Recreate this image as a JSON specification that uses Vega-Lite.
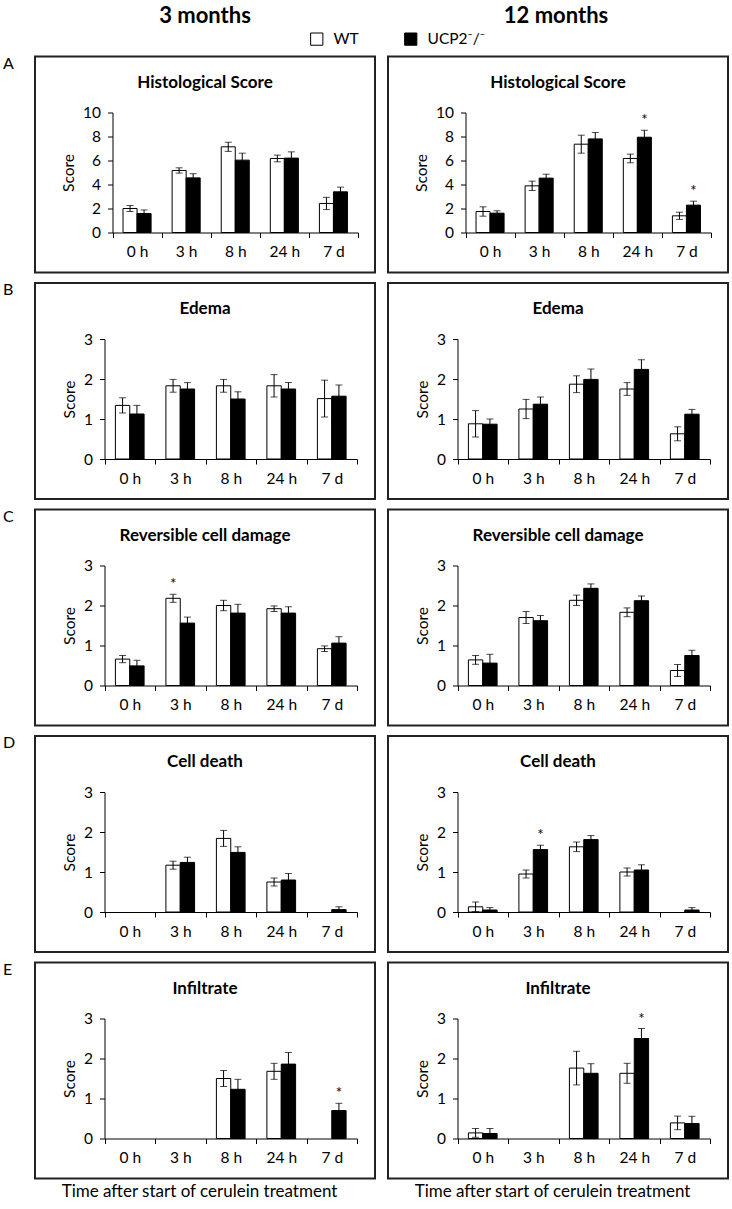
{
  "$schema": "https://vega.github.io/schema/vega-lite/v6.json",
  "padding": {"left": 3, "top": 5, "right": 0, "bottom": 0},
  "background": "white",
  "datasets": {
    "scores": [
      {"measure":"Histological Score","age":"3 months","time":"0 h","group":"WT","mean":2.0,"lo":1.75,"hi":2.25,"sig":""},
      {"measure":"Histological Score","age":"3 months","time":"0 h","group":"UCP2⁻/⁻","mean":1.58,"lo":1.28,"hi":1.88,"sig":""},
      {"measure":"Histological Score","age":"3 months","time":"3 h","group":"WT","mean":5.17,"lo":4.95,"hi":5.39,"sig":""},
      {"measure":"Histological Score","age":"3 months","time":"3 h","group":"UCP2⁻/⁻","mean":4.55,"lo":4.2,"hi":4.9,"sig":""},
      {"measure":"Histological Score","age":"3 months","time":"8 h","group":"WT","mean":7.14,"lo":6.76,"hi":7.52,"sig":""},
      {"measure":"Histological Score","age":"3 months","time":"8 h","group":"UCP2⁻/⁻","mean":6.03,"lo":5.45,"hi":6.61,"sig":""},
      {"measure":"Histological Score","age":"3 months","time":"24 h","group":"WT","mean":6.17,"lo":5.89,"hi":6.45,"sig":""},
      {"measure":"Histological Score","age":"3 months","time":"24 h","group":"UCP2⁻/⁻","mean":6.2,"lo":5.68,"hi":6.72,"sig":""},
      {"measure":"Histological Score","age":"3 months","time":"7 d","group":"WT","mean":2.42,"lo":1.91,"hi":2.93,"sig":""},
      {"measure":"Histological Score","age":"3 months","time":"7 d","group":"UCP2⁻/⁻","mean":3.39,"lo":3.0,"hi":3.78,"sig":""},
      {"measure":"Histological Score","age":"12 months","time":"0 h","group":"WT","mean":1.75,"lo":1.36,"hi":2.14,"sig":""},
      {"measure":"Histological Score","age":"12 months","time":"0 h","group":"UCP2⁻/⁻","mean":1.61,"lo":1.41,"hi":1.81,"sig":""},
      {"measure":"Histological Score","age":"12 months","time":"3 h","group":"WT","mean":3.89,"lo":3.5,"hi":4.28,"sig":""},
      {"measure":"Histological Score","age":"12 months","time":"3 h","group":"UCP2⁻/⁻","mean":4.53,"lo":4.2,"hi":4.86,"sig":""},
      {"measure":"Histological Score","age":"12 months","time":"8 h","group":"WT","mean":7.36,"lo":6.61,"hi":8.11,"sig":""},
      {"measure":"Histological Score","age":"12 months","time":"8 h","group":"UCP2⁻/⁻","mean":7.8,"lo":7.27,"hi":8.33,"sig":""},
      {"measure":"Histological Score","age":"12 months","time":"24 h","group":"WT","mean":6.17,"lo":5.81,"hi":6.53,"sig":""},
      {"measure":"Histological Score","age":"12 months","time":"24 h","group":"UCP2⁻/⁻","mean":7.94,"lo":7.36,"hi":8.52,"sig":"*"},
      {"measure":"Histological Score","age":"12 months","time":"7 d","group":"WT","mean":1.39,"lo":1.09,"hi":1.69,"sig":""},
      {"measure":"Histological Score","age":"12 months","time":"7 d","group":"UCP2⁻/⁻","mean":2.28,"lo":1.95,"hi":2.61,"sig":"*"},
      {"measure":"Edema","age":"3 months","time":"0 h","group":"WT","mean":1.34,"lo":1.15,"hi":1.53,"sig":""},
      {"measure":"Edema","age":"3 months","time":"0 h","group":"UCP2⁻/⁻","mean":1.125,"lo":0.9,"hi":1.34,"sig":""},
      {"measure":"Edema","age":"3 months","time":"3 h","group":"WT","mean":1.83,"lo":1.67,"hi":1.99,"sig":""},
      {"measure":"Edema","age":"3 months","time":"3 h","group":"UCP2⁻/⁻","mean":1.75,"lo":1.59,"hi":1.91,"sig":""},
      {"measure":"Edema","age":"3 months","time":"8 h","group":"WT","mean":1.83,"lo":1.67,"hi":1.99,"sig":""},
      {"measure":"Edema","age":"3 months","time":"8 h","group":"UCP2⁻/⁻","mean":1.5,"lo":1.32,"hi":1.68,"sig":""},
      {"measure":"Edema","age":"3 months","time":"24 h","group":"WT","mean":1.83,"lo":1.55,"hi":2.11,"sig":""},
      {"measure":"Edema","age":"3 months","time":"24 h","group":"UCP2⁻/⁻","mean":1.75,"lo":1.59,"hi":1.91,"sig":""},
      {"measure":"Edema","age":"3 months","time":"7 d","group":"WT","mean":1.51,"lo":1.05,"hi":1.97,"sig":""},
      {"measure":"Edema","age":"3 months","time":"7 d","group":"UCP2⁻/⁻","mean":1.57,"lo":1.29,"hi":1.85,"sig":""},
      {"measure":"Edema","age":"12 months","time":"0 h","group":"WT","mean":0.88,"lo":0.55,"hi":1.21,"sig":""},
      {"measure":"Edema","age":"12 months","time":"0 h","group":"UCP2⁻/⁻","mean":0.87,"lo":0.74,"hi":1.0,"sig":""},
      {"measure":"Edema","age":"12 months","time":"3 h","group":"WT","mean":1.25,"lo":1.01,"hi":1.49,"sig":""},
      {"measure":"Edema","age":"12 months","time":"3 h","group":"UCP2⁻/⁻","mean":1.37,"lo":1.19,"hi":1.55,"sig":""},
      {"measure":"Edema","age":"12 months","time":"8 h","group":"WT","mean":1.87,"lo":1.66,"hi":2.08,"sig":""},
      {"measure":"Edema","age":"12 months","time":"8 h","group":"UCP2⁻/⁻","mean":1.99,"lo":1.73,"hi":2.25,"sig":""},
      {"measure":"Edema","age":"12 months","time":"24 h","group":"WT","mean":1.75,"lo":1.59,"hi":1.91,"sig":""},
      {"measure":"Edema","age":"12 months","time":"24 h","group":"UCP2⁻/⁻","mean":2.24,"lo":2.0,"hi":2.48,"sig":""},
      {"measure":"Edema","age":"12 months","time":"7 d","group":"WT","mean":0.63,"lo":0.455,"hi":0.805,"sig":""},
      {"measure":"Edema","age":"12 months","time":"7 d","group":"UCP2⁻/⁻","mean":1.12,"lo":1.0,"hi":1.24,"sig":""},
      {"measure":"Reversible cell damage","age":"3 months","time":"0 h","group":"WT","mean":0.66,"lo":0.57,"hi":0.75,"sig":""},
      {"measure":"Reversible cell damage","age":"3 months","time":"0 h","group":"UCP2⁻/⁻","mean":0.49,"lo":0.35,"hi":0.63,"sig":""},
      {"measure":"Reversible cell damage","age":"3 months","time":"3 h","group":"WT","mean":2.18,"lo":2.08,"hi":2.28,"sig":"*"},
      {"measure":"Reversible cell damage","age":"3 months","time":"3 h","group":"UCP2⁻/⁻","mean":1.56,"lo":1.42,"hi":1.71,"sig":""},
      {"measure":"Reversible cell damage","age":"3 months","time":"8 h","group":"WT","mean":2.0,"lo":1.87,"hi":2.13,"sig":""},
      {"measure":"Reversible cell damage","age":"3 months","time":"8 h","group":"UCP2⁻/⁻","mean":1.81,"lo":1.59,"hi":2.03,"sig":""},
      {"measure":"Reversible cell damage","age":"3 months","time":"24 h","group":"WT","mean":1.92,"lo":1.85,"hi":1.99,"sig":""},
      {"measure":"Reversible cell damage","age":"3 months","time":"24 h","group":"UCP2⁻/⁻","mean":1.81,"lo":1.65,"hi":1.97,"sig":""},
      {"measure":"Reversible cell damage","age":"3 months","time":"7 d","group":"WT","mean":0.92,"lo":0.85,"hi":0.99,"sig":""},
      {"measure":"Reversible cell damage","age":"3 months","time":"7 d","group":"UCP2⁻/⁻","mean":1.06,"lo":0.9,"hi":1.22,"sig":""},
      {"measure":"Reversible cell damage","age":"12 months","time":"0 h","group":"WT","mean":0.64,"lo":0.53,"hi":0.75,"sig":""},
      {"measure":"Reversible cell damage","age":"12 months","time":"0 h","group":"UCP2⁻/⁻","mean":0.56,"lo":0.34,"hi":0.78,"sig":""},
      {"measure":"Reversible cell damage","age":"12 months","time":"3 h","group":"WT","mean":1.7,"lo":1.55,"hi":1.85,"sig":""},
      {"measure":"Reversible cell damage","age":"12 months","time":"3 h","group":"UCP2⁻/⁻","mean":1.62,"lo":1.49,"hi":1.75,"sig":""},
      {"measure":"Reversible cell damage","age":"12 months","time":"8 h","group":"WT","mean":2.13,"lo":2.0,"hi":2.26,"sig":""},
      {"measure":"Reversible cell damage","age":"12 months","time":"8 h","group":"UCP2⁻/⁻","mean":2.43,"lo":2.31,"hi":2.54,"sig":""},
      {"measure":"Reversible cell damage","age":"12 months","time":"24 h","group":"WT","mean":1.83,"lo":1.72,"hi":1.94,"sig":""},
      {"measure":"Reversible cell damage","age":"12 months","time":"24 h","group":"UCP2⁻/⁻","mean":2.12,"lo":1.99,"hi":2.24,"sig":""},
      {"measure":"Reversible cell damage","age":"12 months","time":"7 d","group":"WT","mean":0.375,"lo":0.225,"hi":0.525,"sig":""},
      {"measure":"Reversible cell damage","age":"12 months","time":"7 d","group":"UCP2⁻/⁻","mean":0.75,"lo":0.62,"hi":0.88,"sig":""},
      {"measure":"Cell death","age":"3 months","time":"3 h","group":"WT","mean":1.17,"lo":1.07,"hi":1.27,"sig":""},
      {"measure":"Cell death","age":"3 months","time":"3 h","group":"UCP2⁻/⁻","mean":1.24,"lo":1.11,"hi":1.37,"sig":""},
      {"measure":"Cell death","age":"3 months","time":"8 h","group":"WT","mean":1.84,"lo":1.64,"hi":2.04,"sig":""},
      {"measure":"Cell death","age":"3 months","time":"8 h","group":"UCP2⁻/⁻","mean":1.49,"lo":1.36,"hi":1.63,"sig":""},
      {"measure":"Cell death","age":"3 months","time":"24 h","group":"WT","mean":0.75,"lo":0.65,"hi":0.85,"sig":""},
      {"measure":"Cell death","age":"3 months","time":"24 h","group":"UCP2⁻/⁻","mean":0.8,"lo":0.64,"hi":0.96,"sig":""},
      {"measure":"Cell death","age":"3 months","time":"7 d","group":"UCP2⁻/⁻","mean":0.06,"lo":0.0,"hi":0.13,"sig":""},
      {"measure":"Cell death","age":"12 months","time":"0 h","group":"WT","mean":0.13,"lo":0.01,"hi":0.25,"sig":""},
      {"measure":"Cell death","age":"12 months","time":"0 h","group":"UCP2⁻/⁻","mean":0.05,"lo":0.0,"hi":0.11,"sig":""},
      {"measure":"Cell death","age":"12 months","time":"3 h","group":"WT","mean":0.95,"lo":0.85,"hi":1.05,"sig":""},
      {"measure":"Cell death","age":"12 months","time":"3 h","group":"UCP2⁻/⁻","mean":1.56,"lo":1.45,"hi":1.67,"sig":"*"},
      {"measure":"Cell death","age":"12 months","time":"8 h","group":"WT","mean":1.63,"lo":1.51,"hi":1.75,"sig":""},
      {"measure":"Cell death","age":"12 months","time":"8 h","group":"UCP2⁻/⁻","mean":1.81,"lo":1.71,"hi":1.91,"sig":""},
      {"measure":"Cell death","age":"12 months","time":"24 h","group":"WT","mean":1.0,"lo":0.9,"hi":1.1,"sig":""},
      {"measure":"Cell death","age":"12 months","time":"24 h","group":"UCP2⁻/⁻","mean":1.05,"lo":0.92,"hi":1.18,"sig":""},
      {"measure":"Cell death","age":"12 months","time":"7 d","group":"UCP2⁻/⁻","mean":0.05,"lo":0.0,"hi":0.11,"sig":""},
      {"measure":"Infiltrate","age":"3 months","time":"8 h","group":"WT","mean":1.5,"lo":1.3,"hi":1.7,"sig":""},
      {"measure":"Infiltrate","age":"3 months","time":"8 h","group":"UCP2⁻/⁻","mean":1.23,"lo":0.99,"hi":1.48,"sig":""},
      {"measure":"Infiltrate","age":"3 months","time":"24 h","group":"WT","mean":1.68,"lo":1.48,"hi":1.88,"sig":""},
      {"measure":"Infiltrate","age":"3 months","time":"24 h","group":"UCP2⁻/⁻","mean":1.86,"lo":1.57,"hi":2.15,"sig":""},
      {"measure":"Infiltrate","age":"3 months","time":"7 d","group":"UCP2⁻/⁻","mean":0.7,"lo":0.52,"hi":0.88,"sig":"*"},
      {"measure":"Infiltrate","age":"12 months","time":"0 h","group":"WT","mean":0.14,"lo":0.03,"hi":0.25,"sig":""},
      {"measure":"Infiltrate","age":"12 months","time":"0 h","group":"UCP2⁻/⁻","mean":0.125,"lo":0.0,"hi":0.25,"sig":""},
      {"measure":"Infiltrate","age":"12 months","time":"8 h","group":"WT","mean":1.76,"lo":1.34,"hi":2.18,"sig":""},
      {"measure":"Infiltrate","age":"12 months","time":"8 h","group":"UCP2⁻/⁻","mean":1.63,"lo":1.39,"hi":1.87,"sig":""},
      {"measure":"Infiltrate","age":"12 months","time":"24 h","group":"WT","mean":1.63,"lo":1.38,"hi":1.88,"sig":""},
      {"measure":"Infiltrate","age":"12 months","time":"24 h","group":"UCP2⁻/⁻","mean":2.5,"lo":2.25,"hi":2.75,"sig":"*"},
      {"measure":"Infiltrate","age":"12 months","time":"7 d","group":"WT","mean":0.39,"lo":0.22,"hi":0.56,"sig":""},
      {"measure":"Infiltrate","age":"12 months","time":"7 d","group":"UCP2⁻/⁻","mean":0.375,"lo":0.195,"hi":0.555,"sig":""}
    ]
  },
  "spacing": 8.5,
  "resolve": {"scale": {"xOffset": "independent"}},
  "vconcat": [
    {
      "hconcat": [
        {"width": 340, "height": 17, "data": {"values": [{"t": ""}]}, "mark": {"type": "text"}, "encoding": {"text": {"field": "t", "type": "nominal"}}, "view": {"stroke": null}, "title": {"text": "3 months", "fontSize": 22, "offset": 2}},
        {"width": 340, "height": 17, "data": {"values": [{"t": ""}]}, "mark": {"type": "text"}, "encoding": {"text": {"field": "t", "type": "nominal"}}, "view": {"stroke": null}, "title": {"text": "12 months", "fontSize": 22, "offset": 2}}
      ],
      "spacing": 11
    },
    {
      "title": {"text": "A", "anchor": "start", "frame": "group", "offset": -16, "dx": -32, "fontSize": 16, "fontWeight": "normal"},
      "spacing": 11,
      "resolve": {"scale": {"xOffset": "independent"}},
      "hconcat": [
        {
          "width": 340, "height": 216, "title": "Histological Score",
          "data": {"name": "scores"},
          "transform": [{"filter": "datum.measure === 'Histological Score' && datum.age === '3 months'"}],
          "encoding": {
            "x": {"field": "time", "type": "nominal", "sort": ["0 h","3 h","8 h","24 h","7 d"], "scale": {"domain": ["0 h","3 h","8 h","24 h","7 d"], "range": [77.5, 323], "paddingInner": 0, "paddingOuter": 0}, "axis": {"orient": "bottom", "offset": -40, "tickBand": "extent", "labelAngle": 0, "title": null}},
            "xOffset": {"field": "group", "type": "nominal", "scale": {"domain": ["WT","UCP2⁻/⁻"], "paddingInner": 0, "paddingOuter": 0.75}},
            "y": {"field": "mean", "type": "quantitative", "title": "Score", "scale": {"domain": [0, 10], "range": [176, 56], "nice": false, "zero": false}, "axis": {"offset": -77.5, "values": [0,2,4,6,8,10], "titlePadding": 6}}
          },
          "layer": [
            {"mark": {"type": "bar", "stroke": "black", "strokeWidth": 1}, "encoding": {"fill": {"field": "group", "type": "nominal", "scale": {"domain": ["WT","UCP2⁻/⁻"], "range": ["white","black"]}, "legend": {"orient": "none", "legendX": 274, "legendY": 1, "direction": "horizontal", "title": null, "symbolType": "square", "symbolSize": 150, "symbolStrokeColor": "black", "symbolStrokeWidth": 1, "labelFontSize": 15.5, "labelFont": "Lato", "labelColor": "black", "columnPadding": 43, "labelOffset": 9}}}},
            {"mark": {"type": "rule", "color": "black", "strokeWidth": 1}, "encoding": {"y": {"field": "lo", "type": "quantitative", "title": "Score"}, "y2": {"field": "hi"}}},
            {"mark": {"type": "tick", "color": "black", "size": 7, "thickness": 1}, "encoding": {"y": {"field": "lo", "type": "quantitative", "title": "Score"}}},
            {"mark": {"type": "tick", "color": "black", "size": 7, "thickness": 1}, "encoding": {"y": {"field": "hi", "type": "quantitative", "title": "Score"}}},
            {"transform": [{"filter": "datum.sig === '*'"}], "mark": {"type": "text", "dy": -10, "fontSize": 15, "color": "black", "baseline": "middle"}, "encoding": {"y": {"field": "hi", "type": "quantitative", "title": "Score"}, "text": {"field": "sig", "type": "nominal"}}}
          ]
        },
        {
          "width": 340, "height": 216, "title": "Histological Score",
          "data": {"name": "scores"},
          "transform": [{"filter": "datum.measure === 'Histological Score' && datum.age === '12 months'"}],
          "encoding": {
            "x": {"field": "time", "type": "nominal", "sort": ["0 h","3 h","8 h","24 h","7 d"], "scale": {"domain": ["0 h","3 h","8 h","24 h","7 d"], "range": [77.5, 323], "paddingInner": 0, "paddingOuter": 0}, "axis": {"orient": "bottom", "offset": -40, "tickBand": "extent", "labelAngle": 0, "title": null}},
            "xOffset": {"field": "group", "type": "nominal", "scale": {"domain": ["WT","UCP2⁻/⁻"], "paddingInner": 0, "paddingOuter": 0.75}},
            "y": {"field": "mean", "type": "quantitative", "title": "Score", "scale": {"domain": [0, 10], "range": [176, 56], "nice": false, "zero": false}, "axis": {"offset": -77.5, "values": [0,2,4,6,8,10], "titlePadding": 6}}
          },
          "layer": [
            {"mark": {"type": "bar", "stroke": "black", "strokeWidth": 1}, "encoding": {"fill": {"field": "group", "type": "nominal", "scale": {"domain": ["WT","UCP2⁻/⁻"], "range": ["white","black"]}}}},
            {"mark": {"type": "rule", "color": "black", "strokeWidth": 1}, "encoding": {"y": {"field": "lo", "type": "quantitative", "title": "Score"}, "y2": {"field": "hi"}}},
            {"mark": {"type": "tick", "color": "black", "size": 7, "thickness": 1}, "encoding": {"y": {"field": "lo", "type": "quantitative", "title": "Score"}}},
            {"mark": {"type": "tick", "color": "black", "size": 7, "thickness": 1}, "encoding": {"y": {"field": "hi", "type": "quantitative", "title": "Score"}}},
            {"transform": [{"filter": "datum.sig === '*'"}], "mark": {"type": "text", "dy": -10, "fontSize": 15, "color": "black", "baseline": "middle"}, "encoding": {"y": {"field": "hi", "type": "quantitative", "title": "Score"}, "text": {"field": "sig", "type": "nominal"}}}
          ]
        }
      ]
    },
    {
      "title": {"text": "B", "anchor": "start", "frame": "group", "offset": -16, "dx": -32, "fontSize": 16, "fontWeight": "normal"},
      "spacing": 11,
      "resolve": {"scale": {"xOffset": "independent"}},
      "hconcat": [
        {
          "width": 340, "height": 216, "title": "Edema",
          "data": {"name": "scores"},
          "transform": [{"filter": "datum.measure === 'Edema' && datum.age === '3 months'"}],
          "encoding": {
            "x": {"field": "time", "type": "nominal", "sort": ["0 h","3 h","8 h","24 h","7 d"], "scale": {"domain": ["0 h","3 h","8 h","24 h","7 d"], "range": [69.5, 322], "paddingInner": 0, "paddingOuter": 0}, "axis": {"orient": "bottom", "offset": -40, "tickBand": "extent", "labelAngle": 0, "title": null}},
            "xOffset": {"field": "group", "type": "nominal", "scale": {"domain": ["WT","UCP2⁻/⁻"], "paddingInner": 0, "paddingOuter": 0.76}},
            "y": {"field": "mean", "type": "quantitative", "title": "Score", "scale": {"domain": [0, 3], "range": [176, 56], "nice": false, "zero": false}, "axis": {"offset": -69.5, "values": [0,1,2,3], "titlePadding": 6}}
          },
          "layer": [
            {"mark": {"type": "bar", "stroke": "black", "strokeWidth": 1}, "encoding": {"fill": {"field": "group", "type": "nominal", "scale": {"domain": ["WT","UCP2⁻/⁻"], "range": ["white","black"]}}}},
            {"mark": {"type": "rule", "color": "black", "strokeWidth": 1}, "encoding": {"y": {"field": "lo", "type": "quantitative", "title": "Score"}, "y2": {"field": "hi"}}},
            {"mark": {"type": "tick", "color": "black", "size": 7, "thickness": 1}, "encoding": {"y": {"field": "lo", "type": "quantitative", "title": "Score"}}},
            {"mark": {"type": "tick", "color": "black", "size": 7, "thickness": 1}, "encoding": {"y": {"field": "hi", "type": "quantitative", "title": "Score"}}},
            {"transform": [{"filter": "datum.sig === '*'"}], "mark": {"type": "text", "dy": -10, "fontSize": 15, "color": "black", "baseline": "middle"}, "encoding": {"y": {"field": "hi", "type": "quantitative", "title": "Score"}, "text": {"field": "sig", "type": "nominal"}}}
          ]
        },
        {
          "width": 340, "height": 216, "title": "Edema",
          "data": {"name": "scores"},
          "transform": [{"filter": "datum.measure === 'Edema' && datum.age === '12 months'"}],
          "encoding": {
            "x": {"field": "time", "type": "nominal", "sort": ["0 h","3 h","8 h","24 h","7 d"], "scale": {"domain": ["0 h","3 h","8 h","24 h","7 d"], "range": [69.5, 322], "paddingInner": 0, "paddingOuter": 0}, "axis": {"orient": "bottom", "offset": -40, "tickBand": "extent", "labelAngle": 0, "title": null}},
            "xOffset": {"field": "group", "type": "nominal", "scale": {"domain": ["WT","UCP2⁻/⁻"], "paddingInner": 0, "paddingOuter": 0.76}},
            "y": {"field": "mean", "type": "quantitative", "title": "Score", "scale": {"domain": [0, 3], "range": [176, 56], "nice": false, "zero": false}, "axis": {"offset": -69.5, "values": [0,1,2,3], "titlePadding": 6}}
          },
          "layer": [
            {"mark": {"type": "bar", "stroke": "black", "strokeWidth": 1}, "encoding": {"fill": {"field": "group", "type": "nominal", "scale": {"domain": ["WT","UCP2⁻/⁻"], "range": ["white","black"]}}}},
            {"mark": {"type": "rule", "color": "black", "strokeWidth": 1}, "encoding": {"y": {"field": "lo", "type": "quantitative", "title": "Score"}, "y2": {"field": "hi"}}},
            {"mark": {"type": "tick", "color": "black", "size": 7, "thickness": 1}, "encoding": {"y": {"field": "lo", "type": "quantitative", "title": "Score"}}},
            {"mark": {"type": "tick", "color": "black", "size": 7, "thickness": 1}, "encoding": {"y": {"field": "hi", "type": "quantitative", "title": "Score"}}},
            {"transform": [{"filter": "datum.sig === '*'"}], "mark": {"type": "text", "dy": -10, "fontSize": 15, "color": "black", "baseline": "middle"}, "encoding": {"y": {"field": "hi", "type": "quantitative", "title": "Score"}, "text": {"field": "sig", "type": "nominal"}}}
          ]
        }
      ]
    },
    {
      "title": {"text": "C", "anchor": "start", "frame": "group", "offset": -16, "dx": -32, "fontSize": 16, "fontWeight": "normal"},
      "spacing": 11,
      "resolve": {"scale": {"xOffset": "independent"}},
      "hconcat": [
        {
          "width": 340, "height": 216, "title": "Reversible cell damage",
          "data": {"name": "scores"},
          "transform": [{"filter": "datum.measure === 'Reversible cell damage' && datum.age === '3 months'"}],
          "encoding": {
            "x": {"field": "time", "type": "nominal", "sort": ["0 h","3 h","8 h","24 h","7 d"], "scale": {"domain": ["0 h","3 h","8 h","24 h","7 d"], "range": [69.5, 322], "paddingInner": 0, "paddingOuter": 0}, "axis": {"orient": "bottom", "offset": -40, "tickBand": "extent", "labelAngle": 0, "title": null}},
            "xOffset": {"field": "group", "type": "nominal", "scale": {"domain": ["WT","UCP2⁻/⁻"], "paddingInner": 0, "paddingOuter": 0.76}},
            "y": {"field": "mean", "type": "quantitative", "title": "Score", "scale": {"domain": [0, 3], "range": [176, 56], "nice": false, "zero": false}, "axis": {"offset": -69.5, "values": [0,1,2,3], "titlePadding": 6}}
          },
          "layer": [
            {"mark": {"type": "bar", "stroke": "black", "strokeWidth": 1}, "encoding": {"fill": {"field": "group", "type": "nominal", "scale": {"domain": ["WT","UCP2⁻/⁻"], "range": ["white","black"]}}}},
            {"mark": {"type": "rule", "color": "black", "strokeWidth": 1}, "encoding": {"y": {"field": "lo", "type": "quantitative", "title": "Score"}, "y2": {"field": "hi"}}},
            {"mark": {"type": "tick", "color": "black", "size": 7, "thickness": 1}, "encoding": {"y": {"field": "lo", "type": "quantitative", "title": "Score"}}},
            {"mark": {"type": "tick", "color": "black", "size": 7, "thickness": 1}, "encoding": {"y": {"field": "hi", "type": "quantitative", "title": "Score"}}},
            {"transform": [{"filter": "datum.sig === '*'"}], "mark": {"type": "text", "dy": -10, "fontSize": 15, "color": "black", "baseline": "middle"}, "encoding": {"y": {"field": "hi", "type": "quantitative", "title": "Score"}, "text": {"field": "sig", "type": "nominal"}}}
          ]
        },
        {
          "width": 340, "height": 216, "title": "Reversible cell damage",
          "data": {"name": "scores"},
          "transform": [{"filter": "datum.measure === 'Reversible cell damage' && datum.age === '12 months'"}],
          "encoding": {
            "x": {"field": "time", "type": "nominal", "sort": ["0 h","3 h","8 h","24 h","7 d"], "scale": {"domain": ["0 h","3 h","8 h","24 h","7 d"], "range": [69.5, 322], "paddingInner": 0, "paddingOuter": 0}, "axis": {"orient": "bottom", "offset": -40, "tickBand": "extent", "labelAngle": 0, "title": null}},
            "xOffset": {"field": "group", "type": "nominal", "scale": {"domain": ["WT","UCP2⁻/⁻"], "paddingInner": 0, "paddingOuter": 0.76}},
            "y": {"field": "mean", "type": "quantitative", "title": "Score", "scale": {"domain": [0, 3], "range": [176, 56], "nice": false, "zero": false}, "axis": {"offset": -69.5, "values": [0,1,2,3], "titlePadding": 6}}
          },
          "layer": [
            {"mark": {"type": "bar", "stroke": "black", "strokeWidth": 1}, "encoding": {"fill": {"field": "group", "type": "nominal", "scale": {"domain": ["WT","UCP2⁻/⁻"], "range": ["white","black"]}}}},
            {"mark": {"type": "rule", "color": "black", "strokeWidth": 1}, "encoding": {"y": {"field": "lo", "type": "quantitative", "title": "Score"}, "y2": {"field": "hi"}}},
            {"mark": {"type": "tick", "color": "black", "size": 7, "thickness": 1}, "encoding": {"y": {"field": "lo", "type": "quantitative", "title": "Score"}}},
            {"mark": {"type": "tick", "color": "black", "size": 7, "thickness": 1}, "encoding": {"y": {"field": "hi", "type": "quantitative", "title": "Score"}}},
            {"transform": [{"filter": "datum.sig === '*'"}], "mark": {"type": "text", "dy": -10, "fontSize": 15, "color": "black", "baseline": "middle"}, "encoding": {"y": {"field": "hi", "type": "quantitative", "title": "Score"}, "text": {"field": "sig", "type": "nominal"}}}
          ]
        }
      ]
    },
    {
      "title": {"text": "D", "anchor": "start", "frame": "group", "offset": -16, "dx": -32, "fontSize": 16, "fontWeight": "normal"},
      "spacing": 11,
      "resolve": {"scale": {"xOffset": "independent"}},
      "hconcat": [
        {
          "width": 340, "height": 216, "title": "Cell death",
          "data": {"name": "scores"},
          "transform": [{"filter": "datum.measure === 'Cell death' && datum.age === '3 months'"}],
          "encoding": {
            "x": {"field": "time", "type": "nominal", "sort": ["0 h","3 h","8 h","24 h","7 d"], "scale": {"domain": ["0 h","3 h","8 h","24 h","7 d"], "range": [69.5, 322], "paddingInner": 0, "paddingOuter": 0}, "axis": {"orient": "bottom", "offset": -40, "tickBand": "extent", "labelAngle": 0, "title": null}},
            "xOffset": {"field": "group", "type": "nominal", "scale": {"domain": ["WT","UCP2⁻/⁻"], "paddingInner": 0, "paddingOuter": 0.76}},
            "y": {"field": "mean", "type": "quantitative", "title": "Score", "scale": {"domain": [0, 3], "range": [176, 56], "nice": false, "zero": false}, "axis": {"offset": -69.5, "values": [0,1,2,3], "titlePadding": 6}}
          },
          "layer": [
            {"mark": {"type": "bar", "stroke": "black", "strokeWidth": 1}, "encoding": {"fill": {"field": "group", "type": "nominal", "scale": {"domain": ["WT","UCP2⁻/⁻"], "range": ["white","black"]}}}},
            {"mark": {"type": "rule", "color": "black", "strokeWidth": 1}, "encoding": {"y": {"field": "lo", "type": "quantitative", "title": "Score"}, "y2": {"field": "hi"}}},
            {"mark": {"type": "tick", "color": "black", "size": 7, "thickness": 1}, "encoding": {"y": {"field": "lo", "type": "quantitative", "title": "Score"}}},
            {"mark": {"type": "tick", "color": "black", "size": 7, "thickness": 1}, "encoding": {"y": {"field": "hi", "type": "quantitative", "title": "Score"}}},
            {"transform": [{"filter": "datum.sig === '*'"}], "mark": {"type": "text", "dy": -10, "fontSize": 15, "color": "black", "baseline": "middle"}, "encoding": {"y": {"field": "hi", "type": "quantitative", "title": "Score"}, "text": {"field": "sig", "type": "nominal"}}}
          ]
        },
        {
          "width": 340, "height": 216, "title": "Cell death",
          "data": {"name": "scores"},
          "transform": [{"filter": "datum.measure === 'Cell death' && datum.age === '12 months'"}],
          "encoding": {
            "x": {"field": "time", "type": "nominal", "sort": ["0 h","3 h","8 h","24 h","7 d"], "scale": {"domain": ["0 h","3 h","8 h","24 h","7 d"], "range": [69.5, 322], "paddingInner": 0, "paddingOuter": 0}, "axis": {"orient": "bottom", "offset": -40, "tickBand": "extent", "labelAngle": 0, "title": null}},
            "xOffset": {"field": "group", "type": "nominal", "scale": {"domain": ["WT","UCP2⁻/⁻"], "paddingInner": 0, "paddingOuter": 0.76}},
            "y": {"field": "mean", "type": "quantitative", "title": "Score", "scale": {"domain": [0, 3], "range": [176, 56], "nice": false, "zero": false}, "axis": {"offset": -69.5, "values": [0,1,2,3], "titlePadding": 6}}
          },
          "layer": [
            {"mark": {"type": "bar", "stroke": "black", "strokeWidth": 1}, "encoding": {"fill": {"field": "group", "type": "nominal", "scale": {"domain": ["WT","UCP2⁻/⁻"], "range": ["white","black"]}}}},
            {"mark": {"type": "rule", "color": "black", "strokeWidth": 1}, "encoding": {"y": {"field": "lo", "type": "quantitative", "title": "Score"}, "y2": {"field": "hi"}}},
            {"mark": {"type": "tick", "color": "black", "size": 7, "thickness": 1}, "encoding": {"y": {"field": "lo", "type": "quantitative", "title": "Score"}}},
            {"mark": {"type": "tick", "color": "black", "size": 7, "thickness": 1}, "encoding": {"y": {"field": "hi", "type": "quantitative", "title": "Score"}}},
            {"transform": [{"filter": "datum.sig === '*'"}], "mark": {"type": "text", "dy": -10, "fontSize": 15, "color": "black", "baseline": "middle"}, "encoding": {"y": {"field": "hi", "type": "quantitative", "title": "Score"}, "text": {"field": "sig", "type": "nominal"}}}
          ]
        }
      ]
    },
    {
      "title": {"text": "E", "anchor": "start", "frame": "group", "offset": -16, "dx": -32, "fontSize": 16, "fontWeight": "normal"},
      "spacing": 11,
      "resolve": {"scale": {"xOffset": "independent"}},
      "hconcat": [
        {
          "width": 340, "height": 216, "title": "Infiltrate",
          "data": {"name": "scores"},
          "transform": [{"filter": "datum.measure === 'Infiltrate' && datum.age === '3 months'"}],
          "encoding": {
            "x": {"field": "time", "type": "nominal", "sort": ["0 h","3 h","8 h","24 h","7 d"], "scale": {"domain": ["0 h","3 h","8 h","24 h","7 d"], "range": [69.5, 322], "paddingInner": 0, "paddingOuter": 0}, "axis": {"orient": "bottom", "offset": -40, "tickBand": "extent", "labelAngle": 0, "title": "Time after start of cerulein treatment", "titleX": 164, "titleY": 53, "titleBaseline": "middle", "titleFontSize": 17}},
            "xOffset": {"field": "group", "type": "nominal", "scale": {"domain": ["WT","UCP2⁻/⁻"], "paddingInner": 0, "paddingOuter": 0.76}},
            "y": {"field": "mean", "type": "quantitative", "title": "Score", "scale": {"domain": [0, 3], "range": [176, 56], "nice": false, "zero": false}, "axis": {"offset": -69.5, "values": [0,1,2,3], "titlePadding": 6}}
          },
          "layer": [
            {"mark": {"type": "bar", "stroke": "black", "strokeWidth": 1}, "encoding": {"fill": {"field": "group", "type": "nominal", "scale": {"domain": ["WT","UCP2⁻/⁻"], "range": ["white","black"]}}}},
            {"mark": {"type": "rule", "color": "black", "strokeWidth": 1}, "encoding": {"y": {"field": "lo", "type": "quantitative", "title": "Score"}, "y2": {"field": "hi"}}},
            {"mark": {"type": "tick", "color": "black", "size": 7, "thickness": 1}, "encoding": {"y": {"field": "lo", "type": "quantitative", "title": "Score"}}},
            {"mark": {"type": "tick", "color": "black", "size": 7, "thickness": 1}, "encoding": {"y": {"field": "hi", "type": "quantitative", "title": "Score"}}},
            {"transform": [{"filter": "datum.sig === '*'"}], "mark": {"type": "text", "dy": -10, "fontSize": 15, "color": "black", "baseline": "middle"}, "encoding": {"y": {"field": "hi", "type": "quantitative", "title": "Score"}, "text": {"field": "sig", "type": "nominal"}}}
          ]
        },
        {
          "width": 340, "height": 216, "title": "Infiltrate",
          "data": {"name": "scores"},
          "transform": [{"filter": "datum.measure === 'Infiltrate' && datum.age === '12 months'"}],
          "encoding": {
            "x": {"field": "time", "type": "nominal", "sort": ["0 h","3 h","8 h","24 h","7 d"], "scale": {"domain": ["0 h","3 h","8 h","24 h","7 d"], "range": [69.5, 322], "paddingInner": 0, "paddingOuter": 0}, "axis": {"orient": "bottom", "offset": -40, "tickBand": "extent", "labelAngle": 0, "title": "Time after start of cerulein treatment", "titleX": 164, "titleY": 53, "titleBaseline": "middle", "titleFontSize": 17}},
            "xOffset": {"field": "group", "type": "nominal", "scale": {"domain": ["WT","UCP2⁻/⁻"], "paddingInner": 0, "paddingOuter": 0.76}},
            "y": {"field": "mean", "type": "quantitative", "title": "Score", "scale": {"domain": [0, 3], "range": [176, 56], "nice": false, "zero": false}, "axis": {"offset": -69.5, "values": [0,1,2,3], "titlePadding": 6}}
          },
          "layer": [
            {"mark": {"type": "bar", "stroke": "black", "strokeWidth": 1}, "encoding": {"fill": {"field": "group", "type": "nominal", "scale": {"domain": ["WT","UCP2⁻/⁻"], "range": ["white","black"]}}}},
            {"mark": {"type": "rule", "color": "black", "strokeWidth": 1}, "encoding": {"y": {"field": "lo", "type": "quantitative", "title": "Score"}, "y2": {"field": "hi"}}},
            {"mark": {"type": "tick", "color": "black", "size": 7, "thickness": 1}, "encoding": {"y": {"field": "lo", "type": "quantitative", "title": "Score"}}},
            {"mark": {"type": "tick", "color": "black", "size": 7, "thickness": 1}, "encoding": {"y": {"field": "hi", "type": "quantitative", "title": "Score"}}},
            {"transform": [{"filter": "datum.sig === '*'"}], "mark": {"type": "text", "dy": -10, "fontSize": 15, "color": "black", "baseline": "middle"}, "encoding": {"y": {"field": "hi", "type": "quantitative", "title": "Score"}, "text": {"field": "sig", "type": "nominal"}}}
          ]
        }
      ]
    }
  ],
  "config": {
    "font": "Lato",
    "view": {"stroke": "#222222", "strokeWidth": 2},
    "title": {"font": "Lato", "fontSize": 17, "fontWeight": "bold", "color": "black", "offset": -35, "anchor": "middle", "frame": "group"},
    "axis": {"grid": false, "domainColor": "black", "domainWidth": 1, "tickColor": "black", "tickWidth": 1, "tickSize": 5, "labelColor": "black", "labelFont": "Lato", "labelFontSize": 15.5, "labelPadding": 7, "titleFont": "Lato", "titleFontSize": 15.5, "titleFontWeight": "normal", "titleColor": "black"}
  }
}
